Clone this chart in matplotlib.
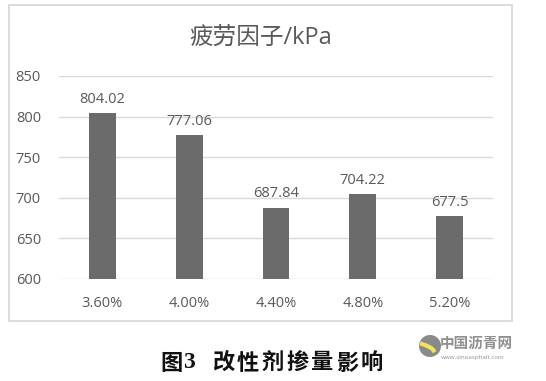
import matplotlib
matplotlib.use("Agg")
import matplotlib.pyplot as plt
from matplotlib.patches import Rectangle, Ellipse
import numpy as np

# data
categories = ["3.60%", "4.00%", "4.40%", "4.80%", "5.20%"]
values = [804.02, 777.06, 687.84, 704.22, 677.5]
value_labels = ["804.02", "777.06", "687.84", "704.22", "677.5"]
yticks = [600, 650, 700, 750, 800, 850]
title = "疲劳因子/kPa"
caption_rest = "改性剂掺量影响"

W, H = 546, 381
TXT = "#595959"
plt.rcParams["font.family"] = ["Open Sans", "Noto Sans CJK SC", "DejaVu Sans"]


def fx(px):
    return px / W


def fy(py):
    return 1 - py / H


fig = plt.figure(figsize=(W / 100, H / 100), dpi=100)
fig.patch.set_facecolor("white")

# chart frame
fig.add_artist(Rectangle((fx(9), fy(321)), 503 / W, 316 / H,
                         transform=fig.transFigure, fill=False,
                         ec="#d9d9d9", lw=1.3))

ax = fig.add_axes([fx(59), fy(279), 434 / W, 203 / H])
x = np.arange(len(categories))
ax.bar(x, values, width=0.31, color="#6b6b6b", zorder=3)
for xi, v, lab in zip(x, values, value_labels):
    ax.text(xi, v + 8, lab, ha="center", va="bottom", fontsize=10.5, color=TXT)

ax.set_xlim(-0.5, len(categories) - 0.5)
ax.set_ylim(600, 850)
ax.set_yticks(yticks)
ax.set_xticks(x)
ax.set_xticklabels(categories)
ax.tick_params(axis="both", length=0, labelsize=10.5, labelcolor=TXT)
ax.tick_params(axis="y", pad=13)
ax.tick_params(axis="x", pad=12)
ax.grid(axis="y", color="#d9d9d9", lw=1.0, zorder=0)
for s in ax.spines.values():
    s.set_visible(False)

fig.text(fx(261), fy(38), title, ha="center", va="center",
         fontsize=17, color=TXT)

# caption: "图" + serif "3" + spaced characters
cy = fy(363)
fig.text(fx(160), cy, "图", ha="left", va="center", fontsize=16,
         fontweight="bold", color="#111111", family="Noto Sans CJK SC")
fig.text(fx(183), cy, "3", ha="left", va="center", fontsize=17,
         fontweight="bold", color="#111111", family="Liberation Serif")
for i, ch in enumerate(caption_rest):
    fig.text(fx(212 + i * 24.8), cy, ch, ha="left", va="center", fontsize=16,
             fontweight="bold", color="#111111", family="Noto Sans CJK SC")

# watermark
fig.add_artist(Ellipse((fx(430), fy(346)), 22 / W, 22 / H, transform=fig.transFigure,
                       fc="#8a8a8a", ec="none"))
t = np.linspace(0.2, 1.5, 30)
fig.add_artist(plt.Line2D(fx(428 + 6 * np.cos(t * 2)), fy(352 - 8 * np.sin(t)),
                          transform=fig.transFigure, color="#f2e35c", lw=3))
fig.text(fx(440), fy(344), "中国沥青网", ha="left", va="center",
         fontsize=10.5, fontweight="bold", color="#8f8f8f")
fig.text(fx(441), fy(357), "www.sinoasphalt.com", ha="left", va="center",
         fontsize=4.5, color="#8f8f8f")

fig.savefig("out.png", dpi=100)
